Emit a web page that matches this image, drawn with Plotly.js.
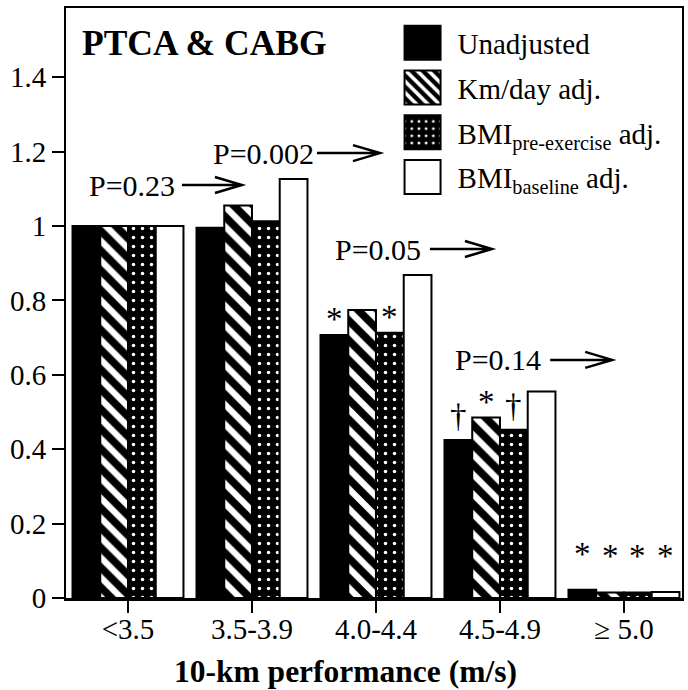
<!DOCTYPE html>
<html>
<head>
<meta charset="utf-8">
<script src="https://cdn.plot.ly/plotly-3.0.1.min.js"></script>
<style>html,body{margin:0;padding:0;background:#fff;}#chart{width:688px;height:690px;}</style>
</head>
<body>
<div id="chart"></div>
<script>
// ---- data ----
const categories = ['<3.5', '3.5-3.9', '4.0-4.4', '4.5-4.9', '≥ 5.0'];
const unadjusted = [1.0, 0.995, 0.707, 0.425, 0.022];
const kmDayAdj = [1.0, 1.055, 0.774, 0.485, 0.015];
const bmiPreAdj = [1.0, 1.013, 0.713, 0.452, 0.015];
const bmiBaseAdj = [1.0, 1.126, 0.868, 0.555, 0.016];
const seriesNames = ['Unadjusted', 'Km/day adj.', 'BMI<sub>pre-exercise</sub> adj.', 'BMI<sub>baseline</sub> adj.'];
const pLabels = ['P=0.23', 'P=0.002', 'P=0.05', 'P=0.14'];
// significance marks: [category index, series index, symbol]
const sigMarks = [
  [2, 0, '*'], [2, 2, '*'],
  [3, 0, '†'], [3, 1, '*'], [3, 2, '†'],
  [4, 0, '*'], [4, 1, '*'], [4, 2, '*'], [4, 3, '*']
];

const FONT = 'Liberation Serif, Times New Roman, serif';
const xIdx = categories.map((c, i) => i);
const allSeries = [unadjusted, kmDayAdj, bmiPreAdj, bmiBaseAdj];

const styles = [
  {color: '#000', pattern: {shape: ''}},
  {color: '#000', pattern: {shape: '\\', fgcolor: '#fff', bgcolor: '#000', fillmode: 'replace', size: 14, solidity: 0.45}},
  {color: '#000', pattern: {shape: '.', fgcolor: '#fff', bgcolor: '#000', fillmode: 'replace', size: 9, solidity: 0.12}},
  {color: '#fff', pattern: {shape: ''}}
];

const traces = allSeries.map((vals, k) => ({
  type: 'bar',
  x: xIdx,
  y: vals,
  name: seriesNames[k],
  legendgroup: 'g' + k,
  marker: {color: styles[k].color, pattern: styles[k].pattern, line: {color: '#000', width: 2}}
}));

const groupWidth = 0.895;
const barW = groupWidth / 4;
const offsetOf = s => -groupWidth / 2 + barW * (s + 0.5);

const annotations = [];
annotations.push({
  xref: 'paper', yref: 'paper', x: 0.022, y: 0.978, xanchor: 'left', yanchor: 'top',
  text: '<b>PTCA & CABG</b>', showarrow: false, font: {family: FONT, size: 35.5, color: '#000'}
});
annotations.push({
  xref: 'paper', yref: 'paper', x: 0.4545, y: -0.125, xanchor: 'center', yanchor: 'middle',
  text: '<b>10-km performance (m/s)</b>', showarrow: false, font: {family: FONT, size: 31.5, color: '#000'}
});

// P-value labels with arrows (positions in axis units)
const pPos = [[-0.33, 1.11], [0.67, 1.196], [1.653, 0.938], [2.621, 0.64]];
const shapes = [];
pLabels.forEach((t, i) => {
  annotations.push({
    x: pPos[i][0], y: pPos[i][1], xanchor: 'left', yanchor: 'middle', text: t,
    showarrow: false, font: {family: FONT, size: 30, color: '#000'}
  });
});
// arrow shapes anchored after labels (pixel-size paths)
const arrowStart = [[0.435, 1.11, 60], [1.524, 1.196, 63], [2.435, 0.938, 62], [3.405, 0.64, 62]];
arrowStart.forEach(p => {
  const L = p[2];
  shapes.push({
    type: 'path', xref: 'x', yref: 'y', xsizemode: 'pixel', ysizemode: 'pixel',
    xanchor: p[0], yanchor: p[1],
    path: 'M0,0 L' + L + ',0 M' + (L - 27) + ',8 L' + L + ',0 L' + (L - 27) + ',-8',
    line: {color: '#000', width: 2.5}
  });
});

sigMarks.forEach(m => {
  const [c, s, sym] = m;
  const v = allSeries[s][c];
  annotations.push({
    x: c + offsetOf(s), y: v, xanchor: 'center', yanchor: 'bottom',
    yshift: sym === '*' ? (c === 4 ? 16 : -4) : 4,
    text: sym, showarrow: false, font: {family: FONT, size: 33, color: '#000'}
  });
});

const layout = {
  width: 688, height: 690,
  margin: {l: 66, r: 6, t: 8, b: 92},
  paper_bgcolor: '#fff', plot_bgcolor: '#fff',
  font: {family: FONT, size: 29, color: '#000'},
  barmode: 'group', bargap: 1 - groupWidth, bargroupgap: 0,
  showlegend: true,
  legend: {x: 0.522, y: 0.984, xanchor: 'left', yanchor: 'top', bgcolor: 'rgba(0,0,0,0)',
           font: {family: FONT, size: 29, color: '#000'}, itemwidth: 60, tracegroupgap: 4,
           traceorder: 'grouped'},
  xaxis: {
    tickmode: 'array', tickvals: xIdx, ticktext: categories, range: [-0.5, 4.468],
    showline: true, linewidth: 2.5, linecolor: '#000', mirror: true,
    ticks: 'outside', ticklen: 12, tickwidth: 2, tickcolor: '#000',
    ticklabelstandoff: -8,
    showgrid: false, zeroline: false,
    tickfont: {family: FONT, size: 29, color: '#000'}
  },
  yaxis: {
    range: [0, 1.586], tickvals: [0, 0.2, 0.4, 0.6, 0.8, 1, 1.2, 1.4],
    showline: true, linewidth: 2, linecolor: '#000', mirror: true,
    ticks: 'outside', ticklen: 12, tickwidth: 2, tickcolor: '#000',
    showgrid: false, zeroline: false,
    tickfont: {family: FONT, size: 29, color: '#000'}
  },
  annotations: annotations,
  shapes: shapes
};

Plotly.newPlot('chart', traces, layout, {displayModeBar: false, staticPlot: true}).then(() => {
  document.querySelectorAll('.legend .legendpoints path').forEach(p => {
    p.setAttribute('d', 'M18,17H-18V-17H18Z');
  });
});
</script>
</body>
</html>
